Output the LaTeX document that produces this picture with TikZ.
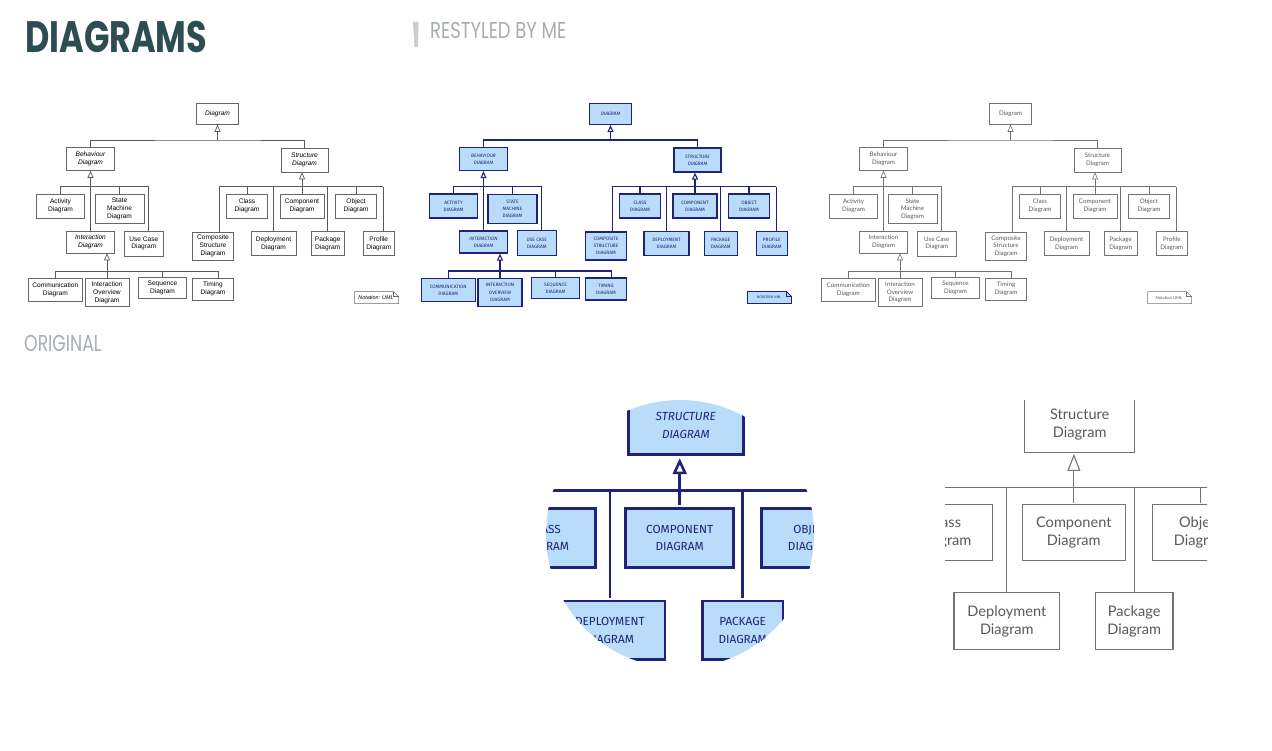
\documentclass[tikz,border=0pt]{standalone}
\usepackage{fontspec}
\usepackage{graphicx}
\usepackage{xcolor}
\usetikzlibrary{arrows.meta}
\setmainfont{Liberation Sans}
\newfontfamily\titlefont{Poppins}
\newfontfamily\bluefont{Fira Sans}
\newfontfamily\grayfont{Lato}

\definecolor{titlecol}{HTML}{2E4D52}
\definecolor{subcol}{HTML}{A7ADB0}
\definecolor{barcol}{HTML}{CCCCCC}
\definecolor{navy}{HTML}{1F2278}
\definecolor{bluefill}{HTML}{B9DCFA}
\definecolor{graytxt}{HTML}{5A5A5A}

\newcommand{\keepcase}[1]{#1}
% structure branch (also used for the close-ups)
\newcommand{\umlstruct}[2]{%
  \node[abox, sz={47}{24}] (#1str) at (304.5,160) {#2{Structure\\Diagram}};
  \node[box, sz={41}{24}] (#1cls) at (247,206) {#2{Class\\Diagram}};
  \node[box, sz={44}{24}] (#1cmp) at (302,206) {#2{Component\\Diagram}};
  \node[box, sz={41}{24}] (#1obj) at (356,206) {#2{Object\\Diagram}};
  \node[box, sz={45}{24}] (#1dep) at (273.5,243.7) {#2{Deployment\\Diagram}};
  \node[box, sz={33}{24}] (#1pkg) at (327.7,243.7) {#2{Package\\Diagram}};
  \coordinate (#1sbusl) at (219.3,186.7);
  \coordinate (#1sbusr) at (383.3,186.7);
  \draw[link] (#1sbusl) -- (#1sbusr);
  \draw[link] (#1cls.north) -- (#1cls.north |- #1sbusl);
  \draw[link] (#1obj.north) -- (#1obj.north |- #1sbusl);
  \draw[link] (#1dep.north) -- (#1dep.north |- #1sbusl);
  \draw[link] (#1pkg.north) -- (#1pkg.north |- #1sbusl);
  \draw[gen] (#1cmp.north) -- (#1cmp.north |- #1str.south);
}
% whole tree
\newcommand{\umltree}[3]{%
  \umlstruct{#1}{#2}
  \node[abox, sz={42}{21}] (#1diag) at (217.5,114) {#2{Diagram}};
  \node[abox, sz={48}{23}] (#1beh) at (90.5,159) {#2{Behaviour\\Diagram}};
  \node[box, sz={48}{24}] (#1act) at (60.5,206) {#2{Activity\\Diagram}};
  \node[box, sz={49}{29}] (#1stm) at (119.5,209) {#2{State\\Machine\\Diagram}};
  \node[abox, sz={48}{22}] (#1int) at (90.5,242) {#2{Interaction\\Diagram}};
  \node[box, sz={39}{25}] (#1use) at (143.8,243.3) {#2{Use Case\\Diagram}};
  \node[box, sz={54}{23}] (#1com) at (55.3,290) {#2{Communication\\Diagram}};
  \node[box, sz={44}{28}] (#1ovr) at (107,292.5) {#2{Interaction\\Overview\\Diagram}};
  \node[box, sz={48}{21}] (#1seq) at (162.5,288) {#2{Sequence\\Diagram}};
  \node[box, sz={41}{22}] (#1tim) at (213,289) {#2{Timing\\Diagram}};
  \node[box, sz={41}{28}] (#1cst) at (213,246) {#2{Composite\\Structure\\Diagram}};
  \node[box, sz={31}{24}] (#1prf) at (378.8,243.7) {#2{Profile\\Diagram}};
  \coordinate (#1top) at (217.5,140);
  \coordinate (#1bbus) at (148.3,186.7);
  \coordinate (#1ibus) at (218.3,271);
  \draw[link] (#1beh.north) |- (#1top) -| (#1str.north);
  \draw[gen] (#1top) -- (#1diag.south);
  \draw[link] (#1act.north) |- (#1bbus) -- (#1bbus |- #1use.north);
  \draw[link] (#1stm.north) -- (#1stm.north |- #1bbus);
  \draw[gen] (#1int.north) -- (#1beh.south);
  \draw[link] (#1com.north) |- (#1ibus) -- (#1ibus |- #1tim.north);
  \draw[link] (#1seq.north) -- (#1seq.north |- #1ibus);
  \draw[gen] (#1ovr.north) -- (#1ovr.north |- #1int.south);
  \draw[link] (#1sbusl |- #1cst.north) -- (#1sbusl);
  \draw[link] (#1sbusr) -- (#1sbusr |- #1prf.north);
  \filldraw[notedraw] (354.5,291.5) -- (393.5,291.5) -- (398.5,296.5) -- (398.5,303.5) -- (354.5,303.5) -- cycle;
  \draw[notedraw, fill=none] (393.5,291.5) |- (398.5,296.5);
  \node[notetext] (#1note) at (376,297.5) {#3};
}

\begin{document}
\begin{tikzpicture}[
    x=1pt, y=-1pt,
    sz/.style 2 args={minimum width=#1pt, minimum height=#2pt},
    heading/.style={anchor=base west, inner sep=0pt, text=subcol, font=\titlefont\fontsize{23}{23}\selectfont},
    origcopy/.style={
      box/.style={draw=black!60, line width=0.6pt, fill=white, align=center, inner sep=0pt, font=\fontsize{6.6}{7.8}\selectfont},
      abox/.style={box, font=\itshape\fontsize{6.6}{7.8}\selectfont},
      link/.style={draw=black!65, line width=0.7pt},
      gen/.style={link, -{Triangle[open, length=7pt, width=6pt]}},
      notedraw/.style={draw=black!60, line width=0.5pt, fill=white},
      notetext/.style={inner sep=0pt, font=\itshape\fontsize{5.4}{6}\selectfont}
    },
    bluecopy/.style={
      box/.style={draw=navy, line width=1.2pt, fill=bluefill, text=navy, align=center, inner sep=0pt, font=\bluefont\fontsize{4.8}{7.2}\selectfont},
      abox/.style={box, font=\bluefont\itshape\fontsize{4.8}{7.2}\selectfont},
      link/.style={draw=navy, line width=1.1pt},
      gen/.style={link, -{Triangle[open, length=7pt, width=6pt]}},
      notedraw/.style={draw=navy, line width=0.9pt, fill=bluefill},
      notetext/.style={inner sep=0pt, text=navy, font=\bluefont\fontsize{3.6}{4}\selectfont}
    },
    blueinset/.style={bluecopy,
      box/.append style={line width=2.8pt},
      link/.style={draw=navy, line width=2.6pt},
      gen/.style={link, -{Triangle[open, length=16pt, width=14pt]}}
    },
    graycopy/.style={
      box/.style={draw=black!55, line width=0.6pt, fill=white, text=graytxt, align=center, inner sep=0pt, font=\grayfont\fontsize{6.2}{7.6}\selectfont},
      abox/.style={box},
      link/.style={draw=black!55, line width=0.6pt},
      gen/.style={link, -{Triangle[open, length=7pt, width=6pt]}},
      notedraw/.style={draw=black!55, line width=0.5pt, fill=white},
      notetext/.style={inner sep=0pt, text=graytxt, font=\grayfont\fontsize{4.2}{5}\selectfont}
    },
    grayinset/.style={graycopy,
      box/.append style={line width=1.1pt},
      link/.style={draw=black!55, line width=1.1pt},
      gen/.style={link, -{Triangle[open, length=17pt, width=13pt]}}
    }
  ]
  \useasboundingbox (0,0) rectangle (1272,750);
  \node[anchor=base west, inner sep=0pt, text=titlecol, font=\titlefont\bfseries\fontsize{44}{44}\selectfont] (title) at (25,52.7) {\scalebox{0.76}[1]{DIAGRAMS}};
  \fill[barcol] (413,22) -- (418.5,21.5) -- (418,47) -- (414.5,47) -- cycle;
  \node[heading] (restyled) at (430,38.3) {\scalebox{0.78}[1]{RESTYLED BY ME}};
  \node[heading] (original) at (24,351) {\scalebox{0.75}[1]{ORIGINAL}};

  \begin{scope}[origcopy]
    \umltree{o}{\keepcase}{Notation: UML}
  \end{scope}
  \begin{scope}[shift={(393,0)}, bluecopy]
    \umltree{b}{\uppercase}{NOTATION UML}
  \end{scope}
  \begin{scope}[shift={(793,0)}, graycopy]
    \umltree{g}{\keepcase}{Notation UML}
  \end{scope}

  \begin{scope}
    \clip (680,534) circle [radius=134pt];
    \begin{scope}[shift={(-60.2,33.3)}, scale=2.45, transform shape, blueinset]
      \umlstruct{bz}{\uppercase}
    \end{scope}
  \end{scope}
  \begin{scope}
    \clip (945,400) rectangle (1207,650);
    \begin{scope}[shift={(364.1,48.4)}, scale=2.35, transform shape, grayinset]
      \umlstruct{gz}{\keepcase}
    \end{scope}
  \end{scope}
\end{tikzpicture}
\end{document}
